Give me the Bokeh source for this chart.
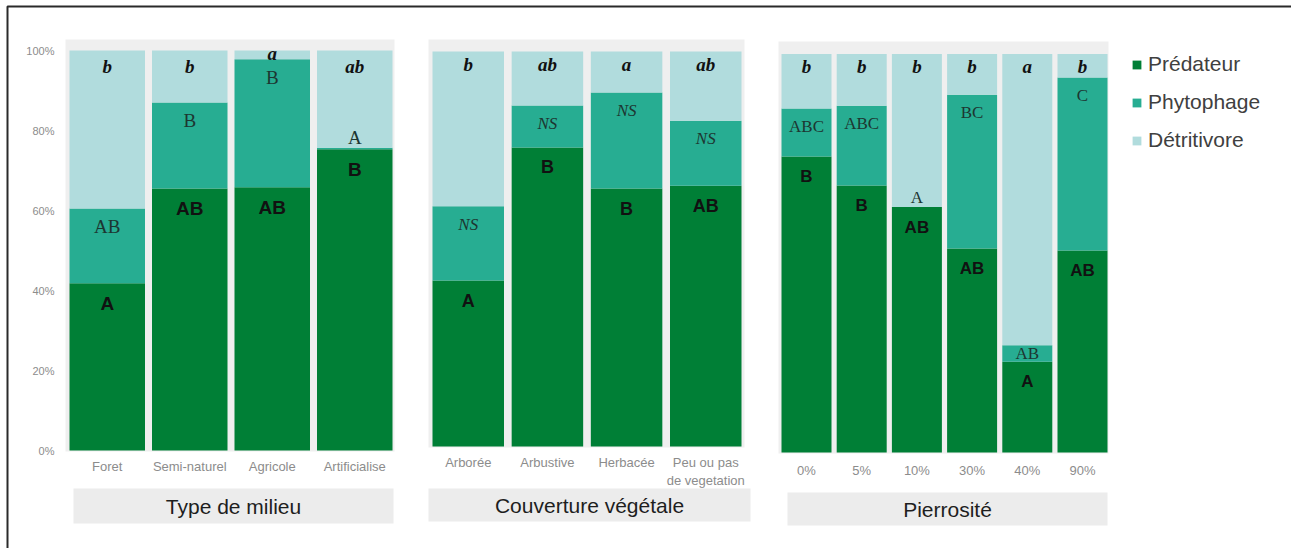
from bokeh.plotting import figure
from bokeh.models import (Range1d, ColumnDataSource, LinearAxis, FixedTicker,
                          BoxAnnotation, Label, Legend, LegendItem)
from bokeh.core.properties import value
from bokeh.embed import file_html
from bokeh.resources import INLINE

# ---------------- data (percent of individuals) ----------------
series_names = ["Prédateur", "Phytophage", "Détritivore"]

milieu_cats = ["Foret", "Semi-naturel", "Agricole", "Artificialise"]
milieu_pred = [41.8, 65.5, 65.8, 75.3]
milieu_phyto = [18.7, 21.5, 32.0, 0.4]
milieu_det = [39.5, 13.0, 2.2, 24.3]
milieu_pred_lett = ["A", "AB", "AB", "B"]
milieu_phyto_lett = ["AB", "B", "B", "A"]
milieu_det_lett = ["b", "b", "a", "ab"]

couv_cats = ["Arborée", "Arbustive", "Herbacée", "Peu ou pas\nde vegetation"]
couv_pred = [42.0, 75.7, 65.3, 66.0]
couv_phyto = [18.8, 10.6, 24.3, 16.5]
couv_det = [39.2, 13.7, 10.4, 17.5]
couv_pred_lett = ["A", "B", "B", "AB"]
couv_phyto_lett = ["NS", "NS", "NS", "NS"]
couv_det_lett = ["b", "ab", "a", "ab"]

pierre_cats = ["0%", "5%", "10%", "30%", "40%", "90%"]
pierre_pred = [74.3, 67.0, 61.6, 51.2, 22.8, 50.7]
pierre_phyto = [12.0, 20.0, 0.0, 38.6, 4.1, 43.4]
pierre_det = [13.7, 13.0, 38.4, 10.2, 73.1, 5.9]
pierre_pred_lett = ["B", "B", "AB", "AB", "A", "AB"]
pierre_phyto_lett = ["ABC", "ABC", "A", "BC", "AB", "C"]
pierre_det_lett = ["b", "b", "b", "b", "a", "b"]

panel_titles = ["Type de milieu", "Couverture végétale", "Pierrosité"]
y_ticks = [0, 20, 40, 60, 80, 100]

# ---------------- styles / layout ----------------
COLORS = ["#007f36", "#27ad92", "#b1dcdd"]
W, H = 1291, 548
SANS = "Liberation Sans"
SERIF = "Liberation Serif"

panels = [
    dict(cats=milieu_cats, pred=milieu_pred, phyto=milieu_phyto, det=milieu_det,
         lp=milieu_pred_lett, lf=milieu_phyto_lett, ld=milieu_det_lett,
         L=69, R=392, bw=75.5, T=50, B=450, bg=(65, 394, 39, 451),
         tbox=(73, 393, 488, 523), tick_standoff=8, fs_pred="19px", fs_phy="19px",
         fs_det="19px", phy_style="normal", det_off=16),
    dict(cats=couv_cats, pred=couv_pred, phyto=couv_phyto, det=couv_det,
         lp=couv_pred_lett, lf=couv_phyto_lett, ld=couv_det_lett,
         L=432, R=741, bw=71.5, T=51, B=446, bg=(428, 744, 39, 447),
         tbox=(428, 750, 488, 521), tick_standoff=8, fs_pred="18px", fs_phy="17px",
         fs_det="19px", phy_style="italic", det_off=13),
    dict(cats=pierre_cats, pred=pierre_pred, phyto=pierre_phyto, det=pierre_det,
         lp=pierre_pred_lett, lf=pierre_phyto_lett, ld=pierre_det_lett,
         L=781, R=1107, bw=50, T=53.5, B=452, bg=(778, 1108, 41, 453),
         tbox=(787, 1107, 492, 525), tick_standoff=10, fs_pred="17px", fs_phy="17px",
         fs_det="19px", phy_style="normal", det_off=12),
]

p = figure(width=W, height=H, x_range=Range1d(0, W), y_range=Range1d(H, 0),
           x_axis_type=None, y_axis_type=None, toolbar_location=None,
           output_backend="svg", min_border=0, outline_line_color=None)
p.background_fill_color = "white"
p.border_fill_color = "white"

# outer frame (top and left lines)
p.add_layout(BoxAnnotation(left=7, right=W + 50, top=6, bottom=H + 50,
                           fill_alpha=0, line_color="#2a2a2a", line_alpha=1,
                           line_width=2))

legend_renderers = None
for k, pc in enumerate(panels, start=1):
    n = len(pc["cats"])
    step = (pc["R"] - pc["L"] - pc["bw"]) / (n - 1)
    c0 = pc["L"] + pc["bw"] / 2
    scale = (pc["B"] - pc["T"]) / 100.0
    xr, yr = f"x{k}", f"y{k}"
    p.extra_x_ranges[xr] = Range1d((0 - c0) / step, (W - c0) / step)
    p.extra_y_ranges[yr] = Range1d(0 - (H - pc["B"]) / scale, 100 + pc["T"] / scale)

    l, r, t, b = pc["bg"]
    p.add_layout(BoxAnnotation(left=l, right=r, top=t, bottom=b,
                               fill_color="#efefef", fill_alpha=1, line_alpha=0,
                               level="underlay"))

    # panel title box
    tl, tr, tt, tb = pc["tbox"]
    p.add_layout(BoxAnnotation(left=tl, right=tr, top=tt, bottom=tb,
                               fill_color="#ececec", fill_alpha=1, line_alpha=0,
                               level="underlay"))

    src = ColumnDataSource(dict(
        x=list(range(n)), pred=pc["pred"], phyto=pc["phyto"], det=pc["det"],
        cat=pc["cats"]))
    rends = p.vbar_stack(["pred", "phyto", "det"], x="x", width=pc["bw"] / step,
                         color=COLORS, line_width=0, source=src,
                         x_range_name=xr, y_range_name=yr)
    if legend_renderers is None:
        legend_renderers = rends

    # significance letters
    top_pred = list(pc["pred"])
    top_phy = [a + f for a, f in zip(pc["pred"], pc["phyto"])]
    off_pred = [20] * n
    off_phy = []
    for f in pc["phyto"]:
        if f < 2:
            off_phy.append(-10)
        elif f < 6:
            off_phy.append(f * scale / 2)
        else:
            off_phy.append(18)
    off_det = [3 if d < 5 else pc["det_off"] for d in pc["det"]]
    xs = list(range(n))
    p.text(x=xs, y=top_pred, text=pc["lp"], y_offset=off_pred,
           x_range_name=xr, y_range_name=yr, text_align="center",
           text_baseline="middle", text_font=value(SANS), text_font_style="bold",
           text_font_size=pc["fs_pred"], text_color="#111111")
    p.text(x=xs, y=top_phy, text=pc["lf"], y_offset=off_phy,
           x_range_name=xr, y_range_name=yr, text_align="center",
           text_baseline="middle", text_font=value(SERIF),
           text_font_style=pc["phy_style"],
           text_font_size=pc["fs_phy"], text_color="#1d3631")
    p.text(x=xs, y=[100] * n, text=pc["ld"], y_offset=off_det,
           x_range_name=xr, y_range_name=yr, text_align="center",
           text_baseline="middle", text_font=value(SERIF),
           text_font_style="bold italic",
           text_font_size=pc["fs_det"], text_color="#111111")

    # category axis
    xax = LinearAxis(x_range_name=xr, y_range_name=yr, fixed_location=0,
                     ticker=FixedTicker(ticks=xs),
                     major_label_overrides={i: c for i, c in enumerate(pc["cats"])},
                     axis_line_color=None, major_tick_line_color=None,
                     minor_tick_line_color=None, major_tick_out=0, major_tick_in=0,
                     major_label_standoff=pc["tick_standoff"],
                     major_label_text_font=SANS, major_label_text_font_size="13px",
                     major_label_text_color="#8c8c8c")
    p.add_layout(xax, "below")

    p.add_layout(Label(x=(tl + tr) / 2, y=(tt + tb) / 2, text=panel_titles[k - 1],
                       text_align="center", text_baseline="middle",
                       text_font=SANS, text_font_size="21px", text_color="#1e1e1e"))

    if k == 1:
        yax = LinearAxis(y_range_name=yr, fixed_location=58,
                         ticker=FixedTicker(ticks=y_ticks),
                         major_label_overrides={v: f"{v}%" for v in y_ticks},
                         axis_line_color=None, major_tick_line_color=None,
                         minor_tick_line_color=None, major_tick_out=0, major_tick_in=0,
                         major_label_standoff=4,
                         major_label_text_font=SANS, major_label_text_font_size="11px",
                         major_label_text_color="#8c8c8c")
        p.add_layout(yax, "left")

legend = Legend(items=[LegendItem(label=nm, renderers=[r])
                       for nm, r in zip(series_names, legend_renderers)],
                location=(1131, 396), glyph_width=11, glyph_height=11,
                label_text_font=SANS, label_text_font_size="21px",
                label_text_color="#404040", label_height=24, spacing=14,
                padding=0, margin=0, label_standoff=6,
                border_line_color=None, background_fill_alpha=0)
p.add_layout(legend)

open("out.html", "w").write(file_html(p, INLINE))
